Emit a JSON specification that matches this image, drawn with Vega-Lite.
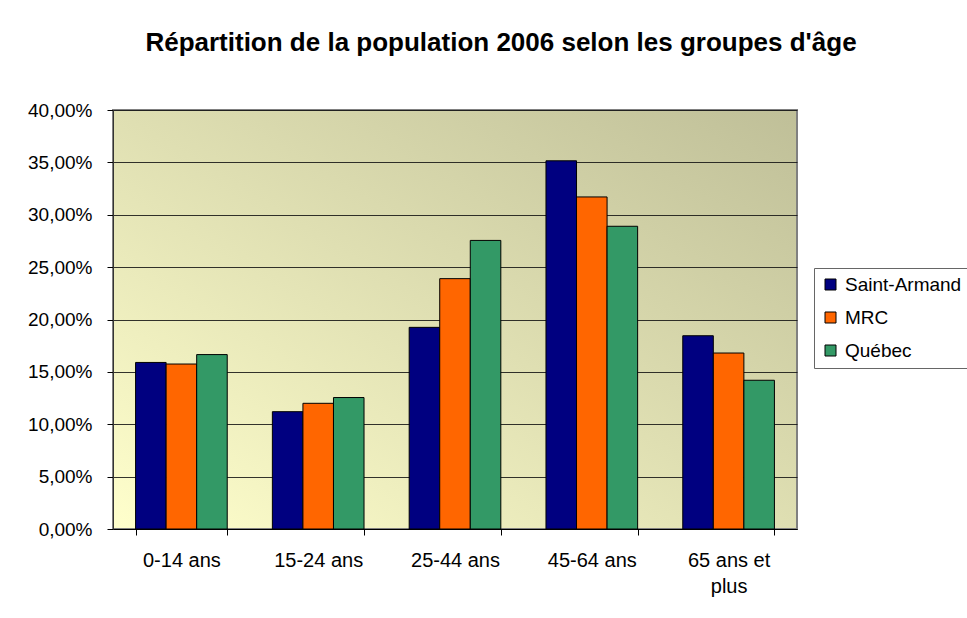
{
  "$schema": "https://vega.github.io/schema/vega-lite/v6.json",
  "width": 684,
  "height": 419,
  "autosize": {"type": "none"},
  "padding": {"left": 113, "top": 110, "right": 170, "bottom": 89},
  "background": "white",
  "config": {
    "font": "Liberation Sans",
    "view": {
      "stroke": "#808080",
      "strokeWidth": 2,
      "fill": {
        "gradient": "linear",
        "x1": 0, "y1": 1, "x2": 1, "y2": 0,
        "stops": [
          {"offset": 0, "color": "#FFFFCC"},
          {"offset": 1, "color": "#BFBF98"}
        ]
      }
    }
  },
  "title": {
    "text": "Répartition de la population 2006 selon les groupes d'âge",
    "font": "Liberation Sans",
    "fontSize": 26,
    "fontWeight": "bold",
    "color": "black",
    "anchor": "middle",
    "offset": 45,
    "dx": 46
  },
  "data": {
    "values": [
      {"groupe": "0-14 ans", "serie": "Saint-Armand", "valeur": 0.159},
      {"groupe": "0-14 ans", "serie": "MRC", "valeur": 0.1575},
      {"groupe": "0-14 ans", "serie": "Québec", "valeur": 0.1665},
      {"groupe": "15-24 ans", "serie": "Saint-Armand", "valeur": 0.112},
      {"groupe": "15-24 ans", "serie": "MRC", "valeur": 0.12},
      {"groupe": "15-24 ans", "serie": "Québec", "valeur": 0.1255},
      {"groupe": "25-44 ans", "serie": "Saint-Armand", "valeur": 0.1925},
      {"groupe": "25-44 ans", "serie": "MRC", "valeur": 0.239},
      {"groupe": "25-44 ans", "serie": "Québec", "valeur": 0.2755},
      {"groupe": "45-64 ans", "serie": "Saint-Armand", "valeur": 0.3515},
      {"groupe": "45-64 ans", "serie": "MRC", "valeur": 0.317},
      {"groupe": "45-64 ans", "serie": "Québec", "valeur": 0.289},
      {"groupe": "65 ans et plus", "serie": "Saint-Armand", "valeur": 0.1845},
      {"groupe": "65 ans et plus", "serie": "MRC", "valeur": 0.168},
      {"groupe": "65 ans et plus", "serie": "Québec", "valeur": 0.142}
    ]
  },
  "mark": {"type": "bar", "stroke": "black", "strokeWidth": 1},
  "encoding": {
    "x": {
      "field": "groupe",
      "type": "nominal",
      "sort": ["0-14 ans", "15-24 ans", "25-44 ans", "45-64 ans", "65 ans et plus"],
      "scale": {"paddingInner": 0.33, "paddingOuter": 0.165},
      "axis": {
        "title": null,
        "labelAngle": 0,
        "labelFontSize": 20,
        "labelColor": "black",
        "labelPadding": 15,
        "labelLineHeight": 26,
        "labelExpr": "datum.label == '65 ans et plus' ? ['65 ans et', 'plus'] : datum.label",
        "tickBand": "extent",
        "tickColor": "black",
        "tickSize": 6,
        "domainColor": "black"
      }
    },
    "xOffset": {
      "field": "serie",
      "type": "nominal",
      "sort": ["Saint-Armand", "MRC", "Québec"]
    },
    "y": {
      "field": "valeur",
      "type": "quantitative",
      "scale": {"domain": [0, 0.4], "nice": false},
      "axis": {
        "title": null,
        "values": [0, 0.05, 0.1, 0.15, 0.2, 0.25, 0.3, 0.35, 0.4],
        "labelExpr": "replace(format(datum.value, '.2%'), '.', ',')",
        "labelFontSize": 19,
        "labelColor": "black",
        "labelPadding": 15,
        "tickColor": "black",
        "tickSize": 6,
        "domainColor": "#333333",
        "gridColor": "#111111",
        "gridOpacity": 0.85
      }
    },
    "color": {
      "field": "serie",
      "type": "nominal",
      "sort": ["Saint-Armand", "MRC", "Québec"],
      "scale": {
        "domain": ["Saint-Armand", "MRC", "Québec"],
        "range": ["#000080", "#FF6600", "#339966"]
      },
      "legend": {
        "title": null,
        "orient": "none",
        "legendX": 701,
        "legendY": 158,
        "padding": 7,
        "strokeColor": "#666666",
        "fillColor": "white",
        "symbolType": "square",
        "symbolSize": 121,
        "symbolStrokeColor": "black",
        "symbolStrokeWidth": 1,
        "symbolOpacity": 1,
        "labelFontSize": 19,
        "labelColor": "black",
        "labelOffset": 5,
        "rowPadding": 13
      }
    }
  }
}
